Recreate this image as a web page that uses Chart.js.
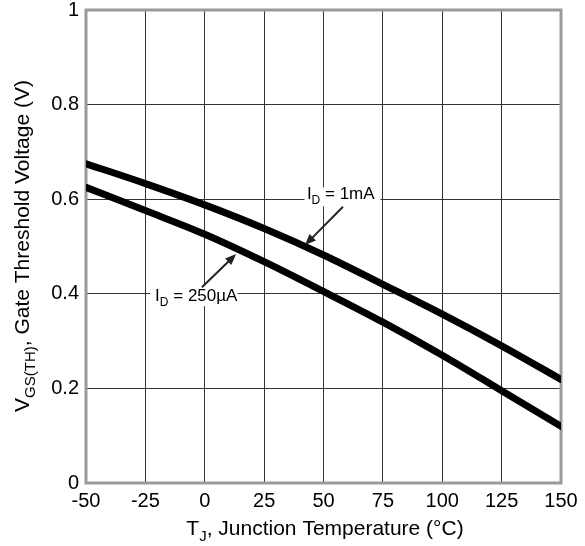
<!DOCTYPE html>
<html lang="en">
<head>
    <meta charset="UTF-8">
    <title>Gate Threshold Voltage vs Junction Temperature</title>
    <script src="https://cdn.jsdelivr.net/npm/chart.js@4/dist/chart.umd.min.js"></script>
    <style>
        body { margin: 0; background: #fff; }
        #wrap { width: 585px; height: 546px; }
    </style>
</head>
<body>
    <div id="wrap"><canvas id="grafico" width="585" height="546"></canvas></div>

    <script>
        // temperatures (°C)
        const temps = [-50, -25, 0, 25, 50, 75, 100, 125, 150];
        // VGS(TH) at ID = 1mA
        const vth1mA = [0.675, 0.633, 0.588, 0.538, 0.482, 0.42, 0.357, 0.29, 0.219];
        // VGS(TH) at ID = 250uA
        const vth250uA = [0.625, 0.576, 0.526, 0.468, 0.405, 0.34, 0.27, 0.195, 0.12];
        const xTicks = [-50, -25, 0, 25, 50, 75, 100, 125, 150];
        const yTicks = [0, 0.2, 0.4, 0.6, 0.8, 1];

        // callouts in data coordinates
        const notes = [
            { main: 'I', sub: 'D', rest: ' = 1mA', x: 43, y: 0.6, box: [42, 74, 0.625, 0.585], from: [58.2, 0.584], to: [42.2, 0.503] },
            { main: 'I', sub: 'D', rest: ' = 250\u00b5A', x: -20.9, y: 0.385, box: [-23, 13.8, 0.419, 0.374], from: [-1.2, 0.414], to: [13.2, 0.484] }
        ];

        const FONT = '"Liberation Sans", Arial, sans-serif';

        function drawSubText(ctx, x, y, parts, size) {
            let cx = x;
            parts.forEach(([t, sub]) => {
                ctx.font = (sub ? Math.round(size * 0.7) : size) + 'px ' + FONT;
                ctx.fillText(t, cx, sub ? y + size * 0.3 : y);
                cx += ctx.measureText(t).width;
            });
            return cx - x;
        }
        function measureSub(ctx, parts, size) {
            let w = 0;
            parts.forEach(([t, sub]) => {
                ctx.font = (sub ? Math.round(size * 0.7) : size) + 'px ' + FONT;
                w += ctx.measureText(t).width;
            });
            return w;
        }

        const extras = {
            id: 'extras',
            beforeDatasetsDraw(chart) {
                const { ctx, chartArea: a } = chart;
                ctx.save();
                ctx.strokeStyle = '#9a9a9a';
                ctx.lineWidth = 3;
                ctx.strokeRect(a.left, a.top, a.right - a.left, a.bottom - a.top);
                ctx.restore();
            },
            afterDatasetsDraw(chart) {
                const { ctx, chartArea: a } = chart;
                const xs = chart.scales.x, ys = chart.scales.y;
                ctx.save();
                notes.forEach(n => {
                    const bx1 = xs.getPixelForValue(n.box[0]), bx2 = xs.getPixelForValue(n.box[1]);
                    const by1 = ys.getPixelForValue(n.box[2]), by2 = ys.getPixelForValue(n.box[3]);
                    ctx.fillStyle = '#fff';
                    ctx.fillRect(bx1, by1, bx2 - bx1, by2 - by1);
                    ctx.fillStyle = '#000';
                    ctx.textBaseline = 'alphabetic';
                    ctx.textAlign = 'left';
                    drawSubText(ctx, xs.getPixelForValue(n.x), ys.getPixelForValue(n.y),
                        [[n.main, false], [n.sub, true], [n.rest, false]], 17);
                    // arrow
                    const x1 = xs.getPixelForValue(n.from[0]), y1 = ys.getPixelForValue(n.from[1]);
                    const x2 = xs.getPixelForValue(n.to[0]), y2 = ys.getPixelForValue(n.to[1]);
                    const ang = Math.atan2(y2 - y1, x2 - x1);
                    const hl = 11, hw = 4.5;
                    ctx.strokeStyle = '#222';
                    ctx.lineWidth = 2;
                    ctx.beginPath();
                    ctx.moveTo(x1, y1);
                    ctx.lineTo(x2 - Math.cos(ang) * hl * 0.8, y2 - Math.sin(ang) * hl * 0.8);
                    ctx.stroke();
                    ctx.fillStyle = '#222';
                    ctx.beginPath();
                    ctx.moveTo(x2, y2);
                    ctx.lineTo(x2 - Math.cos(ang) * hl - Math.sin(ang) * hw, y2 - Math.sin(ang) * hl + Math.cos(ang) * hw);
                    ctx.lineTo(x2 - Math.cos(ang) * hl + Math.sin(ang) * hw, y2 - Math.sin(ang) * hl - Math.cos(ang) * hw);
                    ctx.closePath();
                    ctx.fill();
                });

                // axis titles with subscripts
                ctx.fillStyle = '#000';
                ctx.textBaseline = 'alphabetic';
                ctx.textAlign = 'left';
                const xt = [['T', false], ['J', true], [', Junction Temperature (\u00b0C)', false]];
                const xw = measureSub(ctx, xt, 21);
                drawSubText(ctx, 325 - xw / 2, 535, xt, 21);

                const yt = [['V', false], ['GS(TH)', true], [', Gate Threshold Voltage (V)', false]];
                const yw = measureSub(ctx, yt, 21);
                ctx.translate(29, 246);
                ctx.rotate(-Math.PI / 2);
                drawSubText(ctx, -yw / 2, 0, yt, 21);
                ctx.restore();
            }
        };

        const ctx = document.getElementById('grafico').getContext('2d');
        new Chart(ctx, {
            type: 'line',
            data: {
                datasets: [
                    {
                        label: 'ID = 1mA',
                        data: temps.map((t, i) => ({ x: t, y: vth1mA[i] })),
                        borderColor: '#000',
                        borderWidth: 7,
                        borderCapStyle: 'round',
                        pointRadius: 0,
                        cubicInterpolationMode: 'monotone'
                    },
                    {
                        label: 'ID = 250uA',
                        data: temps.map((t, i) => ({ x: t, y: vth250uA[i] })),
                        borderColor: '#000',
                        borderWidth: 7,
                        borderCapStyle: 'round',
                        pointRadius: 0,
                        cubicInterpolationMode: 'monotone'
                    }
                ]
            },
            options: {
                responsive: false,
                animation: false,
                events: [],
                layout: { padding: { top: 10, right: 24, left: 0, bottom: 0 } },
                plugins: { legend: { display: false }, tooltip: { enabled: false } },
                scales: {
                    x: {
                        type: 'linear',
                        min: -50,
                        max: 150,
                        afterBuildTicks: s => { s.ticks = xTicks.map(v => ({ value: v })); },
                        afterFit: s => { s.height = 63; s.paddingLeft = 0; s.paddingRight = 0; },
                        grid: { color: '#333', lineWidth: 1, drawTicks: false },
                        border: { display: false },
                        ticks: { color: '#000', padding: 6, maxRotation: 0, font: { family: FONT, size: 20 } }
                    },
                    y: {
                        min: 0,
                        max: 1,
                        afterBuildTicks: s => { s.ticks = yTicks.map(v => ({ value: v })); },
                        afterFit: s => { s.width = 86; s.paddingTop = 0; s.paddingBottom = 0; },
                        grid: { color: '#333', lineWidth: 1, drawTicks: false },
                        border: { display: false },
                        ticks: {
                            color: '#000', padding: 7, font: { family: FONT, size: 20 },
                            callback: v => (v === 0 || v === 1) ? String(v) : v.toFixed(1)
                        }
                    }
                }
            },
            plugins: [extras]
        });
    </script>
</body>
</html>
